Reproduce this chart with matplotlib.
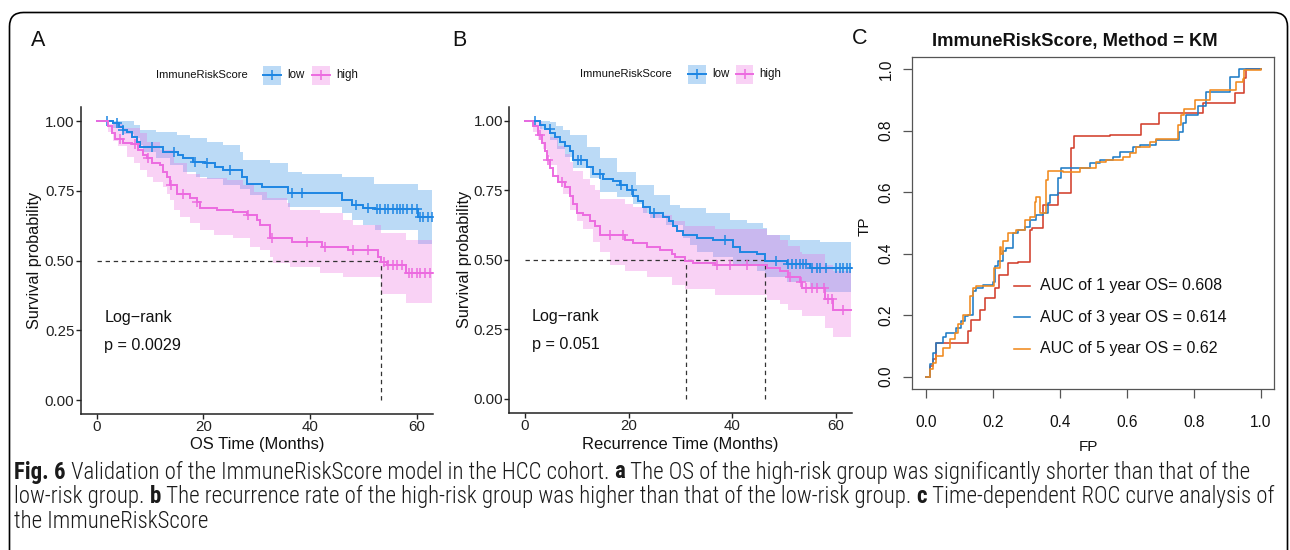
import numpy as np
import matplotlib
matplotlib.use("Agg")
import matplotlib.pyplot as plt
from matplotlib import font_manager
from matplotlib.patches import FancyBboxPatch, Rectangle
from matplotlib.lines import Line2D
from matplotlib.transforms import IdentityTransform

W, H = 1290, 550

# ---------------- data ----------------
follow_up_end = 62.9
group_names = ["low", "high"]
legend_title = "ImmuneRiskScore"

# Panel A : overall survival
a_low_t = [0, 3.1, 4.1, 5.0, 5.6, 6.6, 7.5, 8.1, 12.5, 15.3, 16.25, 18.1, 20.3, 22.2, 23.75,
           27.2, 28.1, 31.0, 35.9, 45.9, 47.8, 50.0, 52.2, 60.3]
a_low_s = [1.0, 0.992, 0.98, 0.968, 0.962, 0.944, 0.926, 0.908, 0.89, 0.878, 0.866, 0.854, 0.848,
           0.836, 0.824, 0.80, 0.776, 0.765, 0.741, 0.717, 0.699, 0.69, 0.683, 0.657]
a_low_cens = [1.9, 3.75, 5.0, 10.3, 14.4, 18.4, 20.6, 25.0, 36.6, 38.4, 48.7, 50.9, 52.5, 53.1,
              54.1, 54.7, 55.6, 56.3, 56.9, 57.5, 58.1, 59.1, 60.0, 60.6, 61.2, 62.2, 62.8]
a_low_hi_t = [0, 6.2, 6.9, 8.1, 11.2, 15.0, 17.5, 20.6, 23.7, 26.9, 27.5, 32.5, 35.9, 38.4, 45.9, 52.0, 60.3]
a_low_hi = [1.0, 1.0, 0.986, 0.968, 0.961, 0.95, 0.938, 0.926, 0.914, 0.89, 0.86, 0.848, 0.818,
            0.812, 0.80, 0.773, 0.752]
a_low_lo_t = [0, 3.1, 5.0, 6.9, 8.1, 8.75, 11.2, 13.7, 16.2, 18.7, 20.6, 23.7, 26.9, 28.7, 31.0,
              35.9, 45.9, 47.8, 50.0, 52.2, 60.3]
a_low_lo = [1.0, 0.975, 0.955, 0.938, 0.914, 0.89, 0.866, 0.842, 0.818, 0.80, 0.794, 0.77, 0.758,
            0.735, 0.717, 0.693, 0.67, 0.645, 0.627, 0.61, 0.56]

a_high_t = [0, 2.2, 2.8, 3.4, 5.0, 6.6, 7.8, 8.75, 9.4, 10.3, 11.9, 12.5, 13.1, 13.75, 15.0, 17.5,
            18.75, 19.4, 22.5, 25.6, 28.1, 30.0, 30.6, 32.5, 36.6, 42.2, 47.2, 52.8, 53.3, 54.5, 58.0]
a_high_s = [1.0, 0.982, 0.958, 0.934, 0.922, 0.916, 0.898, 0.88, 0.868, 0.848, 0.842, 0.818, 0.80,
            0.77, 0.74, 0.723, 0.711, 0.687, 0.681, 0.675, 0.663, 0.645, 0.627, 0.58, 0.567, 0.55,
            0.538, 0.514, 0.496, 0.484, 0.454]
a_high_cens = [4.4, 7.2, 9.7, 14.0, 16.25, 18.75, 28.4, 32.8, 39.4, 42.8, 48.1, 50.9, 53.8, 54.7,
               55.6, 56.3, 57.2, 58.6, 59.1, 60.0, 60.6, 61.6, 62.5]
a_high_hi_t = [0, 2.2, 5.0, 8.1, 9.4, 11.9, 14.4, 16.9, 19.4, 24.4, 27.5, 29.4, 31.9, 35.6, 36.25,
               41.9, 46.25, 48.1, 53.3, 58.0]
a_high_hi = [1.0, 0.99, 0.975, 0.956, 0.926, 0.896, 0.848, 0.81, 0.795, 0.789, 0.77, 0.747, 0.723,
             0.705, 0.68, 0.67, 0.645, 0.627, 0.60, 0.573]
a_high_lo_t = [0, 2.2, 3.1, 4.0, 5.6, 6.9, 8.1, 9.4, 10.6, 12.5, 13.1, 13.75, 14.4, 15.6, 17.5, 19.4,
               21.9, 25.6, 28.75, 30.6, 32.5, 33.1, 36.2, 41.9, 46.2, 53.3, 58.0]
a_high_lo = [1.0, 0.96, 0.93, 0.91, 0.87, 0.848, 0.824, 0.80, 0.78, 0.765, 0.74, 0.717, 0.68, 0.657,
             0.633, 0.61, 0.59, 0.58, 0.55, 0.538, 0.514, 0.49, 0.478, 0.455, 0.44, 0.38, 0.347]
a_medians = [53.3]
a_pvalue = "p = 0.0029"

# Panel B : recurrence
b_low_t = [0, 2.89, 3.86, 4.82, 5.79, 6.75, 7.72, 8.68, 9.32, 11.9, 13.2, 15.1, 17.0, 18.3, 19.6,
           20.9, 21.9, 22.8, 24.1, 26.7, 27.7, 28.6, 29.3, 30.5, 33.1, 36.3, 40.2, 41.5, 44.7, 46.3,
           50.5, 55.0]
b_low_s = [1.0, 0.985, 0.97, 0.955, 0.94, 0.925, 0.91, 0.89, 0.86, 0.835, 0.81, 0.79, 0.785, 0.77,
           0.75, 0.73, 0.71, 0.69, 0.67, 0.655, 0.64, 0.62, 0.605, 0.59, 0.58, 0.57, 0.545, 0.53,
           0.52, 0.495, 0.485, 0.47]
b_low_cens = [1.9, 4.8, 10.3, 10.9, 14.5, 18.6, 20.6, 24.8, 38.6, 48.5, 50.8, 51.6, 52.3, 53.0,
              53.6, 54.3, 55.3, 56.3, 57.0, 58.0, 60.1, 60.8, 61.4, 62.1, 62.7]
b_low_hi_t = [0, 3.0, 4.8, 6.0, 7.4, 8.7, 11.9, 14.5, 17.7, 21.5, 24.8, 28.0, 29.9, 35.0, 39.6,
              42.8, 46.0, 46.7, 51.2, 57.0]
b_low_hi = [1.0, 1.0, 0.996, 0.98, 0.965, 0.949, 0.905, 0.865, 0.817, 0.769, 0.733, 0.697, 0.685,
            0.667, 0.643, 0.631, 0.613, 0.589, 0.571, 0.565]
b_low_lo_t = [0, 2.9, 4.8, 6.1, 7.7, 9.3, 12.5, 14.5, 17.7, 20.9, 22.8, 24.1, 27.3, 30.5, 31.8,
              33.1, 36.3, 40.2, 44.7, 46.3, 50.5, 55.0, 58.0]
b_low_lo = [1.0, 0.97, 0.93, 0.90, 0.87, 0.83, 0.793, 0.745, 0.727, 0.70, 0.67, 0.649, 0.625, 0.58,
            0.553, 0.53, 0.51, 0.48, 0.46, 0.44, 0.42, 0.40, 0.385]

b_high_t = [0, 1.61, 2.57, 3.22, 3.86, 4.18, 4.82, 5.47, 6.43, 7.72, 8.68, 9.32, 9.97, 11.25, 12.5,
            13.5, 14.5, 19.3, 20.9, 23.5, 26.0, 28.3, 28.9, 30.9, 32.5, 36.7, 46.6, 49.2, 50.8, 53.1,
            53.4, 57.9, 59.5]
b_high_s = [1.0, 0.98, 0.95, 0.92, 0.89, 0.86, 0.83, 0.80, 0.78, 0.76, 0.73, 0.70, 0.67, 0.66, 0.64,
            0.62, 0.59, 0.57, 0.56, 0.545, 0.535, 0.52, 0.51, 0.495, 0.49, 0.48, 0.47, 0.46, 0.44,
            0.42, 0.40, 0.36, 0.32]
b_high_cens = [2.9, 4.5, 7.1, 16.4, 19.0, 37.0, 39.5, 42.8, 51.1, 53.3, 54.3, 55.3, 56.3, 57.6,
               58.5, 59.2, 61.4]
b_high_hi_t = [0, 1.6, 3.2, 4.8, 6.4, 7.7, 8.7, 9.3, 11.25, 12.5, 13.5, 14.5, 19.3, 20.9, 23.5,
               26.0, 28.3, 30.9, 36.7, 46.6, 49.2, 50.8, 53.1, 53.4, 57.9, 59.5]
b_high_hi = [1.0, 1.0, 0.97, 0.94, 0.91, 0.88, 0.85, 0.82, 0.79, 0.77, 0.75, 0.72, 0.70, 0.69,
             0.67, 0.66, 0.64, 0.62, 0.61, 0.59, 0.57, 0.55, 0.53, 0.52, 0.48, 0.46]
b_high_lo_t = [0, 1.6, 2.6, 3.5, 4.2, 4.8, 6.1, 7.4, 8.7, 10.0, 11.25, 13.2, 14.5, 16.4, 19.3, 23.5,
               28.3, 30.9, 36.7, 46.6, 49.2, 50.8, 53.4, 57.9, 59.5]
b_high_lo = [1.0, 0.96, 0.93, 0.90, 0.87, 0.84, 0.78, 0.735, 0.68, 0.64, 0.61, 0.565, 0.53, 0.48,
             0.46, 0.44, 0.41, 0.395, 0.375, 0.355, 0.34, 0.32, 0.30, 0.255, 0.224]
b_medians = [31.0, 46.3]
b_pvalue = "p = 0.051"

km_yticks = [0.0, 0.25, 0.50, 0.75, 1.00]
km_yticklabels = ["0.00", "0.25", "0.50", "0.75", "1.00"]
km_xticks = [0, 20, 40, 60]

# Panel C : time-dependent ROC (FP, TP step points)
roc_labels = ["AUC of 1 year OS= 0.608", "AUC of 3 year OS = 0.614", "AUC of 5 year OS = 0.62"]
roc1_fp = [0, 0.014, 0.021, 0.03, 0.126, 0.136, 0.161, 0.176, 0.206, 0.22, 0.245, 0.275, 0.31,
           0.318, 0.35, 0.395, 0.434, 0.441, 0.549, 0.643, 0.695, 0.827, 0.922, 0.95, 0.955, 1.0]
roc1_tp = [0, 0.034, 0.056, 0.108, 0.148, 0.183, 0.218, 0.256, 0.288, 0.331, 0.369, 0.374, 0.477,
           0.483, 0.558, 0.596, 0.742, 0.782, 0.785, 0.82, 0.857, 0.89, 0.922, 0.97, 1.0, 1.0]
roc3_fp = [0, 0.012, 0.022, 0.032, 0.052, 0.062, 0.091, 0.106, 0.116, 0.126, 0.141, 0.151, 0.171,
           0.2, 0.206, 0.216, 0.231, 0.241, 0.26, 0.275, 0.295, 0.31, 0.33, 0.35, 0.365, 0.37, 0.395,
           0.405, 0.489, 0.519, 0.559, 0.579, 0.619, 0.638, 0.688, 0.757, 0.767, 0.777, 0.812,
           0.837, 0.907, 0.936, 1.0]
roc3_tp = [0, 0.04, 0.078, 0.11, 0.13, 0.142, 0.159, 0.18, 0.197, 0.2, 0.278, 0.288, 0.299, 0.307,
           0.359, 0.375, 0.407, 0.418, 0.467, 0.477, 0.488, 0.51, 0.526, 0.531, 0.564, 0.591, 0.645,
           0.677, 0.693, 0.704, 0.715, 0.731, 0.747, 0.753, 0.769, 0.796, 0.823, 0.85, 0.879, 0.925,
           0.974, 1.0, 1.0]
roc5_fp = [0, 0.012, 0.022, 0.032, 0.052, 0.072, 0.086, 0.096, 0.111, 0.131, 0.141, 0.151, 0.203,
           0.221, 0.226, 0.231, 0.246, 0.27, 0.295, 0.31, 0.325, 0.33, 0.34, 0.36, 0.365, 0.41,
           0.46, 0.509, 0.539, 0.588, 0.608, 0.628, 0.668, 0.688, 0.752, 0.762, 0.772, 0.802, 0.847,
           0.926, 0.946, 0.951, 1.0]
roc5_tp = [0, 0.024, 0.045, 0.067, 0.094, 0.121, 0.142, 0.17, 0.202, 0.261, 0.288, 0.294, 0.353,
           0.423, 0.40, 0.44, 0.467, 0.477, 0.51, 0.52, 0.569, 0.585, 0.531, 0.64, 0.67, 0.665,
           0.677, 0.699, 0.704, 0.715, 0.726, 0.747, 0.764, 0.774, 0.817, 0.85, 0.871, 0.898,
           0.931, 0.958, 0.969, 0.996, 1.0]
roc_ticks = [0.0, 0.2, 0.4, 0.6, 0.8, 1.0]
roc_ticklabels = ["0.0", "0.2", "0.4", "0.6", "0.8", "1.0"]

caption_lines = [
    [("Fig. 6", True), (" Validation of the ImmuneRiskScore model in the HCC cohort. ", False),
     ("a", True), (" The OS of the high-risk group was significantly shorter than that of the", False)],
    [("low-risk group. ", False), ("b", True),
     (" The recurrence rate of the high-risk group was higher than that of the low-risk group. ", False),
     ("c", True), (" Time-dependent ROC curve analysis of", False)],
    [("the ImmuneRiskScore", False)],
]

# ---------------- style ----------------
BLUE = "#1E86E3"
PINK = "#EC6BE0"
ROC_COLORS = ["#D23F2C", "#1F7CC6", "#F08A1E"]
FONT = "Liberation Sans"
plt.rcParams["font.family"] = [FONT, "DejaVu Sans"]
TXT = "#111111"

fig = plt.figure(figsize=(W / 100, H / 100), dpi=100)


def axbox(l, t, r, b):
    return [l / W, 1 - b / H, (r - l) / W, (b - t) / H]


def ftext(x, y, s, **kw):
    return fig.text(x / W, 1 - y / H, s, **kw)


# outer rounded border
border = FancyBboxPatch((9.5, -20), 1278, H - 12.5 + 20,
                        boxstyle="round,pad=0,rounding_size=14",
                        transform=IdentityTransform(), fill=False, ec="black", lw=1.2)
fig.add_artist(border)


def value_at(t, s, q):
    idx = np.searchsorted(np.asarray(t), np.asarray(q), side="right") - 1
    return np.asarray(s)[idx]


def draw_band(ax, lo_t, lo, hi_t, hi, color):
    grid = np.union1d(np.union1d(lo_t, hi_t), [follow_up_end])
    ax.fill_between(grid, value_at(lo_t, lo, grid), value_at(hi_t, hi, grid),
                    step="post", color=color, alpha=0.3, lw=0)


def draw_curve(ax, t, s, cens, color):
    tt = np.append(t, follow_up_end)
    ss = np.append(s, s[-1])
    ax.step(tt, ss, where="post", color=color, lw=1.4, solid_joinstyle="miter")
    ax.plot(cens, value_at(t, s, cens), ls="none", marker="+", ms=7.5, mew=1.1, color=color)


def km_panel(box, low, high, medians, pval, xlabel, ylabel_x, xlabel_y, lr_x, lr_y):
    ax = fig.add_axes(axbox(*box))
    (lt, ls_, lc, lht, lh, llt, ll) = low
    (ht, hs, hc, hht, hh, hlt, hl) = high
    draw_band(ax, llt, ll, lht, lh, BLUE)
    draw_band(ax, hlt, hl, hht, hh, PINK)
    m = max(medians)
    ax.plot([0, m], [0.5, 0.5], color="#333333", lw=0.9, ls=(0, (3.5, 3)))
    for md in medians:
        ax.plot([md, md], [0, 0.5], color="#333333", lw=0.9, ls=(0, (3.5, 3)))
    draw_curve(ax, lt, ls_, lc, BLUE)
    draw_curve(ax, ht, hs, hc, PINK)
    ax.set_xlim(-3, 63)
    ax.set_ylim(-0.05, 1.05)
    for sp in ["top", "right"]:
        ax.spines[sp].set_visible(False)
    for sp in ["left", "bottom"]:
        ax.spines[sp].set_color("#222222")
        ax.spines[sp].set_linewidth(1.1)
    ax.set_yticks(km_yticks)
    ax.set_yticklabels(km_yticklabels)
    ax.set_xticks(km_xticks)
    ax.tick_params(length=3.4, width=1.0, color="#222222", labelsize=10.8, labelcolor="#222222", pad=1.2)
    cx = (box[0] + box[2]) / 2
    cy = (box[1] + box[3]) / 2
    ftext(cx, xlabel_y, xlabel, ha="center", va="center", fontsize=11.9, color=TXT)
    ftext(ylabel_x, cy, "Survival probability", ha="center", va="center", rotation=90,
          fontsize=11.7, color=TXT)
    ftext(lr_x, lr_y, "Log\u2212rank", ha="left", va="center", fontsize=11.6, color=TXT)
    ftext(lr_x, lr_y + 27.5, pval, ha="left", va="center", fontsize=11.6, color=TXT)
    return ax


def km_legend(title_x, y, blue_box, pink_box):
    ftext(title_x, y, legend_title, ha="left", va="center", fontsize=8.1, color=TXT)
    for (l, r), color, name in [(blue_box, BLUE, group_names[0]), (pink_box, PINK, group_names[1])]:
        t, b = y - 9.5, y + 9.5
        fig.add_artist(Rectangle((l / W, 1 - b / H), (r - l) / W, (b - t) / H,
                                 transform=fig.transFigure, facecolor=color, alpha=0.3, lw=0))
        yc = 1 - y / H
        fig.add_artist(Line2D([l / W, r / W], [yc, yc], transform=fig.transFigure, color=color, lw=1.4))
        fig.add_artist(Line2D([(l + r) / 2 / W], [yc], transform=fig.transFigure, color=color,
                              marker="+", ms=7.5, mew=1.1, ls="none"))
        ftext(r + 6, y, name, ha="left", va="center", fontsize=8.3, color=TXT)


low_a = (a_low_t, a_low_s, a_low_cens, a_low_hi_t, a_low_hi, a_low_lo_t, a_low_lo)
high_a = (a_high_t, a_high_s, a_high_cens, a_high_hi_t, a_high_hi, a_high_lo_t, a_high_lo)
km_panel((80.7, 107.1, 432.7, 414.0), low_a, high_a, a_medians, a_pvalue, "OS Time (Months)",
         35, 445, 104.3, 317.7)
km_legend(155.7, 75.3, (263.3, 281.0), (311.7, 330.0))

low_b = (b_low_t, b_low_s, b_low_cens, b_low_hi_t, b_low_hi, b_low_lo_t, b_low_lo)
high_b = (b_high_t, b_high_s, b_high_cens, b_high_hi_t, b_high_hi, b_high_lo_t, b_high_lo)
km_panel((509.45, 106.8, 851.5, 412.9), low_b, high_b, b_medians, b_pvalue,
         "Recurrence Time (Months)", 464.5, 444, 531.7, 316.7)
km_legend(580.0, 74.3, (688.3, 706.0), (736.0, 753.3))

# ---------------- panel C ----------------
axc = fig.add_axes(axbox(912.3, 56.7, 1274.3, 389.0))
for fp, tp, col in [(roc1_fp, roc1_tp, ROC_COLORS[0]), (roc3_fp, roc3_tp, ROC_COLORS[1]),
                    (roc5_fp, roc5_tp, ROC_COLORS[2])]:
    axc.step(fp, tp, where="post", color=col, lw=1.15)
axc.set_xlim(-0.04, 1.04)
axc.set_ylim(-0.04, 1.04)
axc.set_xticks(roc_ticks)
axc.set_xticklabels(roc_ticklabels)
axc.set_yticks(roc_ticks)
axc.set_yticklabels(roc_ticklabels, rotation=90, va="center")
for sp in axc.spines.values():
    sp.set_color("#555555")
    sp.set_linewidth(0.9)
axc.tick_params(axis="x", length=6.5, width=0.9, color="#555555", labelsize=11.2, pad=12.5,
                labelcolor=TXT)
axc.tick_params(axis="y", length=6.5, width=0.9, color="#555555", labelsize=11.2, pad=7,
                labelcolor=TXT)
ftext(1088.3, 446.7, "FP", ha="center", va="center", fontsize=11, color=TXT)
ftext(865, 226.7, "TP", ha="center", va="center", rotation=90, fontsize=11, color=TXT)
ftext(1075, 41.7, "ImmuneRiskScore, Method = KM", ha="center", va="center", fontsize=13.2,
      fontweight="bold", color=TXT)
for i, (lab, col) in enumerate(zip(roc_labels, ROC_COLORS)):
    y = 285.7 + i * 31.65
    fig.add_artist(Line2D([1014 / W, 1030 / W], [1 - y / H, 1 - y / H], transform=fig.transFigure,
                          color=col, lw=1.15))
    ftext(1040, y, lab, ha="left", va="center", fontsize=11.5, color=TXT)

# panel letters
ftext(31, 40.7, "A", ha="left", va="center", fontsize=15.5, color=TXT)
ftext(452.7, 40, "B", ha="left", va="center", fontsize=15.5, color=TXT)
ftext(852.3, 39, "C", ha="left", va="center", fontsize=15.5, color=TXT)


# ---------------- caption ----------------
def pick_caption_font():
    names = {f.name for f in font_manager.fontManager.ttflist}
    for n in ["Roboto Condensed", "Open Sans Condensed", "Liberation Sans Narrow",
              "DejaVu Sans Condensed", "Noto Sans Condensed"]:
        if n in names:
            return {"family": n}
    for f in font_manager.fontManager.ttflist:
        if f.name == "DejaVu Sans" and "ondensed" in str(f.stretch):
            return {"family": "DejaVu Sans", "stretch": "condensed"}
    return {"family": "Open Sans"}


cap_font = pick_caption_font()
renderer = fig.canvas.get_renderer()


def draw_line(segs, x0, y, size, draw=True):
    x = x0
    arts = []
    for s, bold in segs:
        t = ftext(x, y, s, ha="left", va="center", fontsize=size,
                  fontweight="bold" if bold else "light", color="#1a1a1a", **cap_font)
        bb = t.get_window_extent(renderer=renderer)
        x += bb.width
        arts.append(t)
    if not draw:
        for a in arts:
            a.remove()
    return x - x0


cap_size = 10.0
for _ in range(3):
    w2 = draw_line(caption_lines[1], 14, 496.5, cap_size, draw=False)
    cap_size = cap_size * (1273 - 14) / w2
for i, segs in enumerate(caption_lines):
    draw_line(segs, 14, 472 + 24.5 * i, cap_size)

fig.savefig("out.png", dpi=100)
